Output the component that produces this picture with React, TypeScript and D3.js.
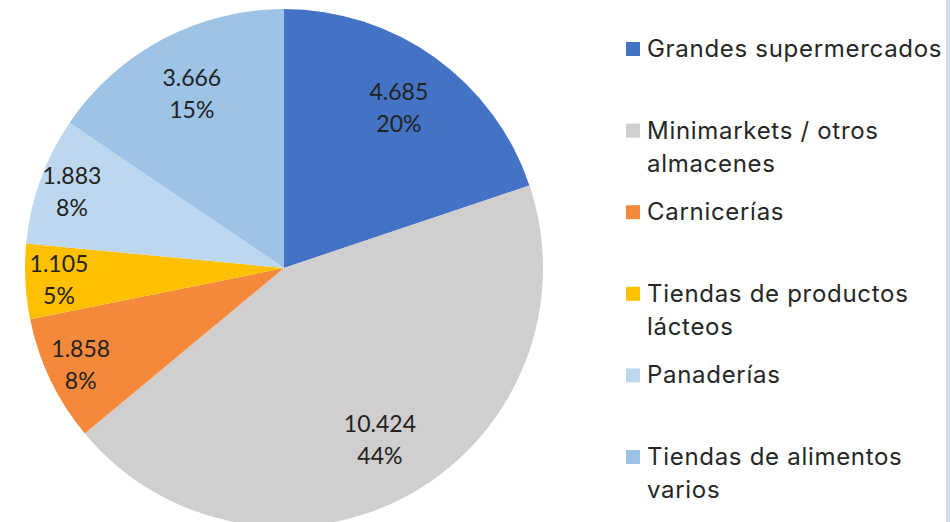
import { useEffect, useRef } from 'react';
import * as d3 from 'd3';

const categories = [
  'Grandes supermercados',
  'Minimarkets / otros almacenes',
  'Carnicerías',
  'Tiendas de productos lácteos',
  'Panaderías',
  'Tiendas de alimentos varios',
];
const legendLines = [
  ['Grandes supermercados'],
  ['Minimarkets / otros', 'almacenes'],
  ['Carnicerías'],
  ['Tiendas de productos', 'lácteos'],
  ['Panaderías'],
  ['Tiendas de alimentos', 'varios'],
];
const values = [4685, 10424, 1858, 1105, 1883, 3666];
const valueLabels = ['4.685', '10.424', '1.858', '1.105', '1.883', '3.666'];
const percentLabels = ['20%', '44%', '8%', '5%', '8%', '15%'];
const colors = ['#4472C4', '#D0CECE', '#F4893B', '#FFC000', '#BDD7EE', '#9DC3E6'];

const WIDTH = 950;
const HEIGHT = 522;
const CX = 284;
const CY = 268;
const R = 259;

export default function App() {
  const ref = useRef<SVGSVGElement | null>(null);

  useEffect(() => {
    if (!ref.current) return;
    const svg = d3.select(ref.current);
    svg.selectAll('*').remove();

    const total = d3.sum(values);
    const pie = d3.pie<number>().sort(null).value(d => d);
    const arcs = pie(values);
    const arc = d3.arc<d3.PieArcDatum<number>>().innerRadius(0).outerRadius(R);

    const g = svg.append('g').attr('transform', `translate(${CX},${CY})`);

    g.selectAll('path')
      .data(arcs)
      .join('path')
      .attr('d', arc)
      .attr('fill', (_, i) => colors[i]);

    // labels: big slices sit a bit further in than the thin ones
    const label = g
      .selectAll('g.lbl')
      .data(arcs)
      .join('g')
      .attr('class', 'lbl')
      .attr('transform', d => {
        const a = (d.startAngle + d.endAngle) / 2;
        const k = d.value / total >= 0.1 ? 0.76 : 0.87;
        return `translate(${Math.sin(a) * R * k},${-Math.cos(a) * R * k})`;
      });

    label
      .append('text')
      .attr('text-anchor', 'middle')
      .attr('y', -8)
      .attr('fill', '#222')
      .style('font-family', 'Lato, sans-serif')
      .style('font-size', '23px')
      .text((_, i) => valueLabels[i]);

    label
      .append('text')
      .attr('text-anchor', 'middle')
      .attr('y', 24)
      .attr('fill', '#222')
      .style('font-family', 'Lato, sans-serif')
      .style('font-size', '23px')
      .text((_, i) => percentLabels[i]);

    // legend
    const y = d3.scaleLinear().domain([0, categories.length - 1]).range([57, 465]);
    const item = svg
      .selectAll('g.leg')
      .data(categories)
      .join('g')
      .attr('class', 'leg')
      .attr('transform', (_, i) => `translate(626,${y(i)})`);

    item
      .append('rect')
      .attr('y', -15)
      .attr('width', 14)
      .attr('height', 14)
      .attr('fill', (_, i) => colors[i]);

    item
      .append('text')
      .attr('fill', '#262626')
      .style('font-family', 'Inter, sans-serif')
      .style('font-size', '24px')
      .style('letter-spacing', '0.7px')
      .selectAll('tspan')
      .data((_, i) => legendLines[i])
      .join('tspan')
      .attr('x', 21)
      .attr('y', (_, j) => j * 33)
      .text(d => d);

    svg
      .append('rect')
      .attr('x', 946)
      .attr('y', 0)
      .attr('width', 4)
      .attr('height', HEIGHT)
      .attr('fill', '#D3DDF0');
  }, []);

  return (
    <div style={{ position: 'absolute', left: 0, top: 0, width: WIDTH, height: HEIGHT, background: '#fff' }}>
      <svg ref={ref} width={WIDTH} height={HEIGHT} style={{ display: 'block', overflow: 'hidden' }} />
    </div>
  );
}
